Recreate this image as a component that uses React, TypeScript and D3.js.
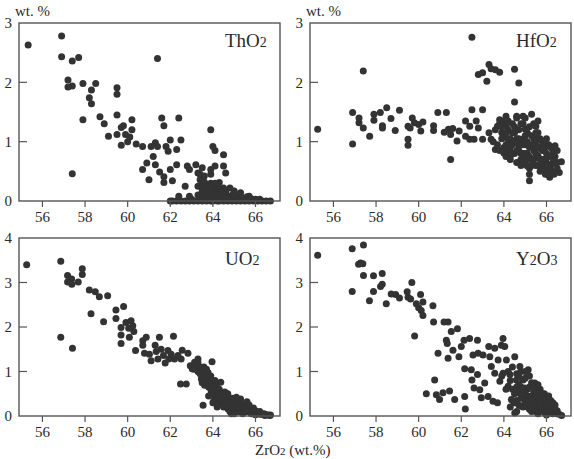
import * as d3 from 'd3';

// ZrO2 (wt.%) vs oxide (wt.%), points as [x, y]
const thoPoints: [number, number][] = [
  [55.33, 2.63], [56.9, 2.78], [56.9, 2.43], [57.4, 2.36], [57.7, 2.42], [57.2, 2.04], [57.2, 1.92],
  [57.4, 1.94], [57.9, 1.98], [58.5, 1.98], [58.3, 1.87], [58.2, 1.74], [58.3, 1.64], [57.9, 1.37],
  [57.4, 0.46], [58.7, 1.42], [58.9, 1.3], [59.1, 1.09], [59.5, 1.91], [59.5, 1.8], [59.5, 1.45],
  [59.5, 1.12], [59.7, 1.24], [59.8, 1.27], [59.7, 0.94], [59.9, 1.12], [60.1, 1.08], [60.2, 1.37],
  [60.2, 1.2], [60.4, 0.96], [60.0, 1.0], [60.7, 0.53], [60.7, 0.92], [60.9, 0.64], [61.0, 0.36],
  [61.1, 0.92], [61.2, 0.75], [61.3, 0.98], [61.4, 2.4], [61.4, 0.92], [61.3, 0.61], [61.5, 0.49],
  [61.6, 1.4], [61.7, 0.41], [61.7, 0.31], [61.7, 1.27], [61.8, 0.92], [61.9, 0.84], [62.0, 1.03],
  [62.0, 0.53], [62.1, 0.34], [62.0, 0.0], [62.3, 0.87], [62.3, 0.61], [62.4, 1.4], [62.5, 1.03],
  [62.4, 0.08], [62.7, 0.25], [62.8, 0.59], [62.9, 0.53], [62.9, 0.08], [63.0, 0.03], [63.2, 0.61],
  [63.3, 0.47], [63.4, 0.36], [63.3, 0.25], [63.5, 0.14], [63.5, 0.56], [63.6, 0.42], [63.7, 0.28],
  [63.8, 0.14], [63.9, 1.2], [63.9, 0.53], [63.9, 0.45], [64.0, 0.92], [64.1, 0.85], [64.1, 0.59],
  [64.2, 0.14], [64.3, 0.31], [64.4, 0.2], [64.5, 0.59], [64.5, 0.78], [64.6, 0.47], [64.8, 0.22],
  [65.0, 0.17], [65.2, 0.08], [65.3, 0.14], [65.6, 0.07], [65.7, 0.08], [66.0, 0.03],
  [62.1, 0.0], [62.3, 0.0], [62.5, 0.0], [62.7, 0.0], [62.9, 0.0], [63.1, 0.0], [63.3, 0.0],
  [63.5, 0.0], [63.7, 0.0], [63.9, 0.0], [64.0, 0.0], [64.2, 0.0], [64.3, 0.0], [64.5, 0.0],
  [64.7, 0.0], [64.9, 0.0], [65.1, 0.0], [65.3, 0.0], [65.5, 0.0], [65.7, 0.0], [65.9, 0.0],
  [66.1, 0.0], [66.3, 0.0], [66.5, 0.0], [66.7, 0.0], [63.4, 0.1], [63.6, 0.2], [63.8, 0.05],
  [64.0, 0.2], [64.1, 0.1], [64.3, 0.12], [64.4, 0.05], [64.6, 0.15], [64.7, 0.08], [64.9, 0.1],
  [65.1, 0.05], [64.2, 0.25], [63.6, 0.32], [63.9, 0.3], [64.5, 0.22], [65.4, 0.05], [65.8, 0.04],
  [66.2, 0.03], [63.3, 0.1], [63.5, 0.3], [63.6, 0.08], [63.7, 0.15], [63.8, 0.25], [63.9, 0.12],
  [64.0, 0.05], [64.1, 0.3], [64.2, 0.05], [64.3, 0.2], [64.4, 0.15], [64.5, 0.1], [64.6, 0.05],
  [64.8, 0.05], [65.0, 0.08], [63.4, 0.45], [63.5, 0.2],
];

const hfoPoints: [number, number][] = [
  [55.26, 1.21], [56.9, 1.49], [56.9, 0.96], [57.2, 1.4], [57.2, 1.32], [57.4, 2.19], [57.4, 1.23],
  [57.7, 1.09], [57.9, 1.46], [57.9, 1.36], [58.2, 1.49], [58.3, 1.27], [58.3, 1.23], [58.5, 1.57],
  [58.7, 1.39], [58.9, 1.19], [59.1, 1.53], [59.5, 1.26], [59.5, 1.04], [59.5, 0.94], [59.6, 1.23],
  [59.7, 1.4], [59.8, 1.32], [60.0, 1.29], [60.1, 1.18], [60.2, 1.33], [60.7, 1.27], [60.7, 1.19],
  [60.9, 1.49], [61.2, 1.16], [61.3, 1.49], [61.4, 1.21], [61.5, 1.12], [61.5, 0.7], [61.6, 1.22],
  [61.8, 1.01], [61.9, 1.18], [62.2, 1.09], [62.2, 1.35], [62.4, 1.26], [62.5, 1.54], [62.5, 2.76],
  [62.4, 1.04], [62.6, 1.04], [62.7, 1.35], [62.8, 2.13], [63.0, 2.16], [62.8, 1.23], [63.0, 1.04],
  [63.0, 1.54], [63.2, 2.02], [63.3, 2.3], [63.4, 2.23], [63.6, 2.21], [63.8, 2.17], [63.3, 1.15],
  [63.4, 1.04], [63.6, 0.87], [63.7, 1.26], [63.8, 1.37], [63.9, 1.15], [64.0, 0.81], [64.1, 1.43],
  [64.1, 1.26], [64.2, 0.98], [64.3, 0.76], [64.5, 1.15], [64.5, 2.22], [64.5, 1.67], [64.6, 1.43],
  [64.7, 0.93], [64.7, 1.99], [64.8, 0.7], [64.9, 1.43], [64.9, 1.04], [65.0, 1.21], [65.1, 0.59],
  [65.2, 0.45], [65.2, 0.34], [65.3, 1.46], [65.4, 0.93], [65.5, 1.26], [65.6, 0.76], [65.6, 1.04],
  [65.8, 0.59], [66.0, 0.93], [66.1, 0.53], [66.3, 0.76], [66.4, 0.93], [66.6, 0.48], [66.7, 0.66],
  [63.9, 1.25], [64.0, 1.1], [64.0, 0.9], [64.1, 0.75], [64.2, 1.2], [64.2, 0.85], [64.3, 1.05],
  [64.3, 0.7], [64.4, 1.3], [64.4, 0.95], [64.5, 0.8], [64.5, 1.25], [64.6, 1.05], [64.6, 0.65],
  [64.7, 0.85], [64.7, 1.2], [64.8, 1.0], [64.8, 0.6], [64.9, 0.8], [64.9, 1.3], [65.0, 0.95],
  [65.0, 0.65], [65.1, 0.8], [65.1, 1.15], [65.2, 0.9], [65.2, 0.55], [65.3, 1.1], [65.3, 0.7],
  [65.4, 0.85], [65.4, 1.3], [65.5, 0.95], [65.5, 0.6], [65.6, 0.75], [65.6, 1.15], [65.7, 0.9],
  [65.7, 0.5], [65.8, 1.0], [65.8, 0.7], [65.9, 0.85], [65.9, 0.55], [66.0, 0.65], [66.0, 1.05],
  [66.1, 0.75], [66.1, 0.45], [66.2, 0.6], [66.2, 0.9], [66.3, 0.5], [66.4, 0.65], [66.5, 0.55],
  [66.5, 0.85], [63.5, 1.0], [63.6, 1.2], [63.7, 0.95], [63.8, 1.3], [63.8, 0.85], [64.6, 1.4],
  [65.0, 1.4], [65.6, 1.35], [63.9, 1.05], [64.0, 1.35], [64.1, 0.95], [64.2, 1.35], [64.3, 0.9],
  [64.4, 1.15], [64.4, 0.8], [64.5, 1.0], [64.6, 0.85], [64.7, 1.05], [64.8, 1.3], [64.8, 0.8],
  [64.9, 0.95], [64.9, 0.7], [65.0, 1.1], [65.0, 0.8], [65.1, 1.0], [65.1, 0.7], [65.2, 1.25],
  [65.2, 0.75], [65.3, 0.95], [65.3, 0.6], [65.4, 1.05], [65.4, 0.7], [65.5, 1.15], [65.5, 0.8],
  [65.6, 0.9], [65.6, 0.6], [65.7, 1.05], [65.7, 0.7], [65.8, 0.85], [65.8, 0.55], [65.9, 0.95],
  [65.9, 0.7], [66.0, 0.8], [66.0, 0.5], [66.1, 0.95], [66.1, 0.6], [66.2, 0.75], [66.2, 0.5],
  [66.3, 0.65], [66.3, 0.85], [66.4, 0.5], [66.4, 0.75], [66.5, 0.65], [66.0, 0.55], [65.95, 0.45],
  [66.15, 0.4], [66.35, 0.45], [64.0, 0.85], [64.2, 1.05], [64.1, 1.15],
];

const uoPoints: [number, number][] = [
  [55.26, 3.4], [56.86, 3.48], [56.86, 1.77], [57.18, 3.16], [57.18, 3.01], [57.37, 3.08], [57.38, 2.96],
  [57.41, 1.52], [57.68, 3.01], [57.87, 3.18], [57.87, 3.31], [58.2, 2.83], [58.28, 2.3], [58.48, 2.79],
  [58.67, 2.68], [58.87, 2.12], [59.06, 2.7], [59.45, 2.38], [59.45, 2.19], [59.69, 1.99], [59.69, 1.82],
  [59.69, 1.63], [59.81, 2.46], [59.92, 2.1], [60.05, 1.97], [60.08, 1.77], [60.16, 2.14], [60.24, 2.03],
  [60.29, 1.9], [60.37, 1.47], [60.71, 1.69], [60.71, 1.59], [60.87, 1.77], [60.79, 1.41], [61.02, 1.39],
  [61.1, 1.24], [61.29, 1.59], [61.34, 1.45], [61.42, 1.28], [61.49, 1.77], [61.57, 1.5], [61.68, 1.36],
  [61.76, 1.19], [61.89, 1.47], [61.93, 1.28], [62.04, 1.39], [62.15, 1.79], [62.2, 1.28], [62.36, 1.36],
  [62.48, 0.72], [62.51, 1.28], [62.56, 1.48], [62.75, 0.72], [62.83, 1.41], [62.94, 1.13], [63.03, 1.06],
  [63.14, 1.21], [63.3, 1.28], [63.38, 0.98], [63.46, 0.83], [63.54, 0.24], [63.58, 1.1], [63.61, 0.69],
  [63.77, 0.98], [63.85, 0.76], [63.96, 1.22], [63.93, 0.54], [64.05, 0.35], [64.16, 0.69], [64.24, 0.46],
  [64.37, 0.76], [64.4, 0.28], [64.56, 0.54], [64.71, 0.16], [64.87, 0.05], [65.03, 0.35], [65.15, 0.24],
  [65.34, 0.09], [65.42, 0.24], [65.58, 0.13], [65.73, 0.18], [65.97, 0.09], [66.2, 0.04], [66.44, 0.01],
  [66.68, 0.01], [63.2, 1.15], [63.3, 1.0], [63.4, 1.1], [63.5, 0.9], [63.6, 0.85], [63.7, 0.8],
  [63.8, 0.65], [63.9, 0.6], [64.0, 0.5], [64.0, 0.7], [64.1, 0.45], [64.2, 0.55], [64.2, 0.35],
  [64.3, 0.4], [64.4, 0.45], [64.4, 0.3], [64.5, 0.35], [64.6, 0.25], [64.6, 0.4], [64.7, 0.3],
  [64.8, 0.2], [64.8, 0.35], [64.9, 0.25], [65.0, 0.15], [65.0, 0.3], [65.1, 0.2], [65.2, 0.1],
  [65.2, 0.3], [65.3, 0.2], [65.4, 0.15], [65.5, 0.25], [65.5, 0.1], [65.6, 0.2], [65.7, 0.1],
  [65.8, 0.15], [65.9, 0.05], [66.0, 0.12], [66.1, 0.06], [66.3, 0.04], [66.5, 0.03], [66.6, 0.02],
  [64.1, 0.6], [64.3, 0.6], [64.9, 0.1], [65.6, 0.32], [65.3, 0.38], [63.9, 0.9], [63.7, 1.05],
  [63.5, 0.75], [64.7, 0.5], [65.1, 0.42], [63.4, 0.95], [63.6, 1.0], [63.8, 0.9], [63.7, 0.7],
  [63.9, 0.75], [64.1, 0.8], [64.3, 0.5], [64.5, 0.5], [64.5, 0.2], [64.7, 0.2], [64.8, 0.1],
  [65.0, 0.05], [65.1, 0.3], [65.3, 0.3], [65.4, 0.05], [65.6, 0.1], [65.7, 0.25], [65.8, 0.05],
  [65.9, 0.18], [66.0, 0.03], [66.2, 0.1], [66.4, 0.05], [66.7, 0.02], [64.2, 0.2], [64.6, 0.45],
  [64.9, 0.4], [65.2, 0.2], [63.3, 1.2], [63.1, 1.05], [64.0, 0.3], [63.8, 0.45],
];

const yoPoints: [number, number][] = [
  [55.26, 3.61], [56.88, 3.76], [56.88, 2.8], [57.18, 3.41], [57.27, 3.44], [57.38, 3.42], [57.41, 3.84],
  [57.41, 3.16], [57.69, 2.59], [57.88, 3.15], [57.88, 2.8], [58.21, 2.91], [58.29, 3.2], [58.29, 2.96],
  [58.48, 2.52], [58.71, 2.74], [58.92, 2.73], [59.1, 2.65], [59.46, 2.79], [59.5, 2.67], [59.62, 2.63],
  [59.68, 3.0], [59.81, 1.8], [59.89, 2.52], [60.0, 2.43], [60.09, 2.73], [60.12, 2.37], [60.2, 2.56],
  [60.2, 2.26], [60.36, 0.5], [60.67, 2.48], [60.7, 2.11], [60.75, 0.81], [60.83, 0.48], [60.91, 1.41],
  [60.98, 0.37], [61.14, 0.52], [61.19, 2.11], [61.3, 1.7], [61.34, 1.63], [61.38, 2.11], [61.38, 1.3],
  [61.45, 0.56], [61.53, 1.9], [61.61, 1.48], [61.69, 0.37], [61.82, 1.96], [61.89, 1.33], [62.0, 1.56],
  [62.13, 1.7], [62.16, 1.06], [62.16, 0.44], [62.19, 0.16], [62.39, 1.74], [62.47, 1.04], [62.5, 0.81],
  [62.55, 1.37], [62.6, 0.63], [62.76, 0.93], [62.76, 1.7], [62.79, 1.41], [62.87, 0.59], [62.94, 0.41],
  [63.02, 1.37], [63.1, 0.74], [63.26, 0.44], [63.29, 1.56], [63.34, 1.33], [63.41, 1.11], [63.49, 0.33],
  [63.57, 1.52], [63.57, 0.96], [63.7, 0.3], [63.73, 1.26], [63.81, 0.78], [63.88, 1.59], [63.96, 1.74],
  [64.04, 1.56], [63.96, 0.96], [64.12, 1.26], [64.2, 0.67], [64.28, 0.93], [64.35, 0.37], [64.51, 1.33],
  [64.51, 0.07], [64.59, 0.81], [64.67, 0.52], [64.75, 1.11], [64.82, 0.22], [64.9, 0.81], [64.98, 0.63],
  [65.14, 1.04], [65.22, 0.44], [65.29, 0.26], [65.45, 0.74], [65.61, 0.52], [65.77, 0.3], [65.92, 0.15],
  [66.08, 0.44], [66.24, 0.22], [66.47, 0.07], [66.71, 0.01], [64.4, 0.6], [64.5, 0.3], [64.6, 0.95],
  [64.7, 0.7], [64.8, 0.4], [64.9, 0.55], [65.0, 0.3], [65.0, 0.85], [65.1, 0.6], [65.2, 0.15],
  [65.3, 0.45], [65.3, 0.75], [65.4, 0.3], [65.4, 0.55], [65.5, 0.1], [65.5, 0.4], [65.6, 0.7],
  [65.6, 0.25], [65.7, 0.45], [65.7, 0.6], [65.8, 0.35], [65.8, 0.12], [65.9, 0.5], [65.9, 0.28],
  [66.0, 0.2], [66.0, 0.38], [66.1, 0.1], [66.1, 0.3], [66.2, 0.35], [66.3, 0.15], [66.3, 0.05],
  [66.4, 0.25], [66.5, 0.12], [66.6, 0.04], [64.2, 1.0], [64.3, 0.8], [64.6, 0.1], [65.2, 0.9],
  [64.9, 0.2], [64.4, 1.1], [64.1, 0.6], [63.9, 0.9], [65.6, 0.05], [66.0, 0.02], [64.5, 0.5],
  [64.6, 0.35], [64.7, 0.25], [64.7, 0.9], [64.8, 0.65], [64.9, 0.4], [65.0, 0.5], [65.1, 0.2],
  [65.1, 0.45], [65.2, 0.65], [65.2, 0.35], [65.3, 0.1], [65.4, 0.65], [65.4, 0.2], [65.5, 0.55],
  [65.5, 0.25], [65.6, 0.4], [65.7, 0.2], [65.7, 0.3], [65.8, 0.5], [65.9, 0.08], [65.9, 0.4],
  [66.0, 0.3], [66.1, 0.2], [66.2, 0.1], [66.2, 0.25], [66.3, 0.3], [66.4, 0.15], [66.5, 0.05],
  [64.3, 0.2], [64.4, 0.35], [64.8, 1.0], [65.0, 1.0], [64.6, 0.65], [66.1, 0.45],
];

const xTicks = [56, 58, 60, 62, 64, 66];
const yTicksTop = [0, 1, 2, 3];
const yTicksBottom = [0, 1, 2, 3, 4];

interface PanelDef {
  name: string;
  parts: { text: string; sub: boolean }[];
  points: [number, number][];
  yTicks: number[];
  left: number;
  top: number;
  unitLabel: boolean;
}

const W = 574;
const H = 459;
const PW = 261;
const PH = 178;
const FONT = "'Liberation Serif', 'Times New Roman', serif";
const INK = '#2a2a2a';

const panels: PanelDef[] = [
  {
    name: 'ThO2',
    parts: [{ text: 'ThO', sub: false }, { text: '2', sub: true }],
    points: thoPoints,
    yTicks: yTicksTop,
    left: 19,
    top: 23,
    unitLabel: true,
  },
  {
    name: 'HfO2',
    parts: [{ text: 'HfO', sub: false }, { text: '2', sub: true }],
    points: hfoPoints,
    yTicks: yTicksTop,
    left: 310,
    top: 23,
    unitLabel: true,
  },
  {
    name: 'UO2',
    parts: [{ text: 'UO', sub: false }, { text: '2', sub: true }],
    points: uoPoints,
    yTicks: yTicksBottom,
    left: 19,
    top: 238,
    unitLabel: false,
  },
  {
    name: 'Y2O3',
    parts: [
      { text: 'Y', sub: false },
      { text: '2', sub: true },
      { text: 'O', sub: false },
      { text: '3', sub: true },
    ],
    points: yoPoints,
    yTicks: yTicksBottom,
    left: 310,
    top: 238,
    unitLabel: false,
  },
];

function Panel({ p }: { p: PanelDef }) {
  const x = d3.scaleLinear().domain([54.9, 67.15]).range([0, PW]);
  const yMax = p.yTicks[p.yTicks.length - 1];
  const y = d3.scaleLinear().domain([0, yMax]).range([PH, 0]);

  return (
    <g transform={`translate(${p.left},${p.top})`}>
      {p.unitLabel && (
        <text x={-4} y={-7} fontSize={15} fill={INK} fontFamily={FONT}>
          wt. %
        </text>
      )}
      {p.points.map(([a, b], i) => (
        <circle key={i} cx={x(a)} cy={y(b)} r={3.5} fill="#333" />
      ))}
      <rect x={0} y={0} width={PW} height={PH} fill="none" stroke="#555" strokeWidth={1.4} />
      {p.yTicks.map((t) => (
        <g key={t}>
          {t > 0 && t < yMax && (
            <line x1={0} x2={8} y1={y(t)} y2={y(t)} stroke="#555" strokeWidth={1.2} />
          )}
          <text
            x={-7}
            y={y(t)}
            dy="0.35em"
            textAnchor="end"
            fontSize={15}
            fill={INK}
            fontFamily={FONT}
          >
            {t}
          </text>
        </g>
      ))}
      {xTicks.map((t) => (
        <g key={t}>
          <line x1={x(t)} x2={x(t)} y1={PH} y2={PH + 6} stroke="#555" strokeWidth={1.2} />
          <text x={x(t)} y={PH + 21} textAnchor="middle" fontSize={15} fill={INK} fontFamily={FONT}>
            {t}
          </text>
        </g>
      ))}
      <text x={206} y={p.top < 100 ? 24 : 27} fontSize={19} fill={INK} fontFamily={FONT}>
        {p.parts.map((part, i) => (
          <tspan key={i} fontSize={part.sub ? 14 : 19}>
            {part.text}
          </tspan>
        ))}
      </text>
    </g>
  );
}

export default function App() {
  return (
    <svg
      width={W}
      height={H}
      viewBox={`0 0 ${W} ${H}`}
      style={{ position: 'absolute', left: 0, top: 0, background: '#fff' }}
    >
      {panels.map((p) => (
        <Panel key={p.name} p={p} />
      ))}
      <text x={255} y={455} fontSize={15} fill={INK} fontFamily={FONT}>
        ZrO<tspan fontSize={11}>2</tspan> (wt.%)
      </text>
    </svg>
  );
}
